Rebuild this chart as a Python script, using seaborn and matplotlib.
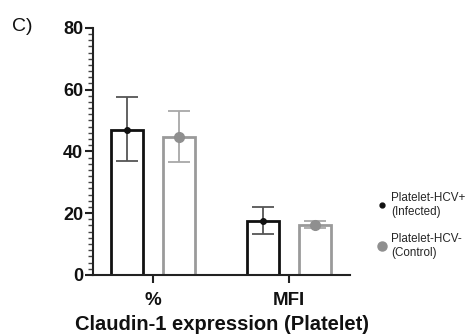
import matplotlib
matplotlib.use("Agg")
import matplotlib.pyplot as plt
from matplotlib.ticker import MultipleLocator
from matplotlib.lines import Line2D
import seaborn as sns
import pandas as pd
import numpy as np

categories = ["%", "MFI"]
groups = ["Platelet-HCV+\n(Infected)", "Platelet-HCV-\n(Control)"]
infected_mean = [47.0, 17.3]
infected_low = [36.9, 13.3]
infected_high = [57.6, 22.0]
control_mean = [44.7, 16.2]
control_low = [36.6, 15.2]
control_high = [53.0, 17.4]

df = pd.DataFrame({
    "cat": categories * 2,
    "group": [groups[0]] * 2 + [groups[1]] * 2,
    "val": infected_mean + control_mean,
    "low": infected_low + control_low,
    "high": infected_high + control_high,
})

sns.set_theme(style="ticks")
plt.rcParams['font.family'] = ['Liberation Sans', 'DejaVu Sans']

fig = plt.figure(figsize=(4.7, 3.36), dpi=100)
ax = fig.add_axes([0.198, 0.182, 0.547, 0.735])

edge_colors = ["#111111", "#9a9a9a"]
err_colors = ["#555555", "#a8a8a8"]
dot_colors = ["#111111", "#8f8f8f"]
dot_sizes = [4, 7]

sns.barplot(data=df, x="cat", y="val", hue="group", hue_order=groups,
            order=categories, width=0.76, gap=0.39, fill=False,
            errorbar=None, legend=False, ax=ax, linewidth=2.0)

patches = ax.patches
for gi in range(2):
    for ci in range(2):
        p = patches[gi * 2 + ci]
        p.set_edgecolor(edge_colors[gi])
        p.set_linewidth(2.0)
        row = df[(df.group == groups[gi]) & (df.cat == categories[ci])].iloc[0]
        xc = p.get_x() + p.get_width() / 2
        ax.errorbar([xc], [row.val],
                    yerr=[[row.val - row.low], [row.high - row.val]],
                    fmt="none", ecolor=err_colors[gi], elinewidth=1.3,
                    capsize=8, capthick=1.3, zorder=3)
        ax.plot([xc], [row.val], "o", color=dot_colors[gi],
                markersize=dot_sizes[gi], zorder=4)

ax.set_ylim(0, 80)
ax.set_xlim(-0.44, 1.45)
ax.yaxis.set_major_locator(MultipleLocator(20))
ax.yaxis.set_minor_locator(MultipleLocator(2))
sns.despine(ax=ax)
for s in ["left", "bottom"]:
    ax.spines[s].set_linewidth(1.5)
    ax.spines[s].set_color("#222222")
ax.tick_params(axis="y", which="major", length=6, width=1.5, color="#222222",
               labelsize=13, pad=1)
ax.tick_params(axis="y", which="minor", length=3.5, width=1.0, color="#444444")
ax.tick_params(axis="x", which="major", length=6, width=1.5, color="#222222",
               labelsize=13.5, pad=6)
for lab in ax.get_yticklabels() + ax.get_xticklabels():
    lab.set_fontweight("bold")
    lab.set_color("#111111")
ax.set_ylabel("")
ax.set_xlabel("Claudin-1 expression (Platelet)", fontsize=14.5,
              fontweight="bold", color="#111111", labelpad=5)

handles = [Line2D([], [], marker="o", linestyle="none", color=dot_colors[i],
                  markersize=dot_sizes[i] - 0.5) for i in range(2)]
ax.legend(handles, groups, loc="center left", bbox_to_anchor=(1.06, 0.20),
          frameon=False, fontsize=8.4, handletextpad=0.3, labelspacing=1.3,
          handlelength=1.0)

fig.text(0.026, 0.908, "C)", fontsize=14, color="#111111", va="baseline")

fig.savefig("out.png", dpi=100)
